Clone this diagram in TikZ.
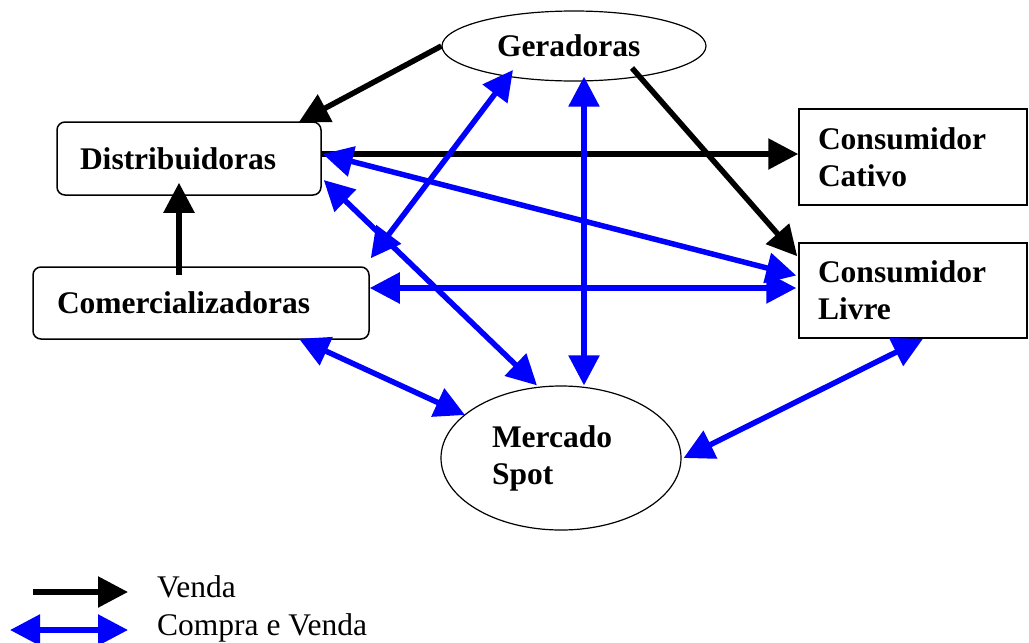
\documentclass[tikz,border=0pt]{standalone}
\usepackage{fontspec}
\setmainfont{Liberation Serif}
\usetikzlibrary{arrows.meta,shapes.geometric,calc}
\begin{document}
\begin{tikzpicture}[x=1pt,y=-1pt,
  >={Triangle[length=30pt,width=30pt]},
  lbl/.style={font=\fontsize{31.5}{37}\selectfont\bfseries},
  rbox/.style={draw,line width=1.5pt,rounded corners=8pt,align=left,lbl,inner ysep=0pt},
  sbox/.style={draw,line width=1.5pt,align=left,lbl,inner ysep=0pt},
  oval/.style={draw,ellipse,line width=1.2pt,lbl,inner sep=0pt},
  sale/.style={->,line width=5.5pt,black},
  trade/.style={<->,line width=5.5pt,blue},
  legtext/.style={anchor=base west,inner sep=0pt,font=\fontsize{31.5}{37}\selectfont}]
\useasboundingbox (0,0) rectangle (1029,643);

% nodes
\node[rbox,text width=218pt,inner xsep=23pt,minimum height=73pt] (dist) at (189,158.5) {Distribuidoras};
\node[rbox,text width=288pt,inner xsep=24pt,minimum height=72pt] (com) at (201,303) {Comercializadoras};
\node[sbox,text width=190pt,inner xsep=19pt,minimum height=96pt] (cat) at (913,157) {Consumidor\\Cativo};
\node[sbox,text width=190pt,inner xsep=19pt,minimum height=95pt] (liv) at (913,290.5) {Consumidor\\Livre};
\node[oval,minimum width=264pt,minimum height=70pt,text width=154pt,align=left] (gen) at (574,46) {Geradoras};
\node[oval,minimum width=240pt,minimum height=144pt,text width=138pt,align=left] (mer) at (561,458) {Mercado\\Spot};

% Venda (black)
\draw[sale] (gen.west) -- ($(dist.north east)+(-23,1)$);
\draw[sale] ($(dist.east)+(0,-4.5)$) -- ($(cat.west)+(0,-3)$);
\draw[sale] ($(gen.center)+(58,22)$) -- ($(liv.north west)+(-1,14)$);
\draw[sale] ($(com.north)+(-22,9)$) -- ($(dist.south)+(-10,-13)$);

% Compra e Venda (blue)
\draw[trade] ($(dist.east)+(1,-4.5)$) -- ($(liv.west)+(-2,-15)$);
\draw[trade] ($(com.east)+(0,-15)$) -- ($(liv.west)+(-2,-2.5)$);
\draw[trade] ($(com.north east)+(1,-8)$) -- ($(gen.center)+(-61,24)$);
\draw[trade] ($(dist.east)+(2,21.5)$) -- ($(mer.north)+(-24,0)$);
\draw[trade] ($(gen.south)+(10,-5)$) -- ($(mer.north)+(23,0)$);
\draw[trade] ($(com.south)+(98,-1)$) -- ($(mer.center)+(-96,-43)$);
\draw[trade] ($(liv.south)+(10,0)$) -- ($(mer.east)+(2,0)$);

% legend
\coordinate (va) at (33,592);
\coordinate (vb) at (128,592);
\draw[sale] (va) -- (vb);
\node[legtext] (lv) at (157,597) {Venda};
\coordinate (ca) at (10,630);
\coordinate (cb) at (128,630);
\draw[trade] (ca) -- (cb);
\node[legtext] (lc) at (157,635) {Compra e Venda};
\end{tikzpicture}
\end{document}
